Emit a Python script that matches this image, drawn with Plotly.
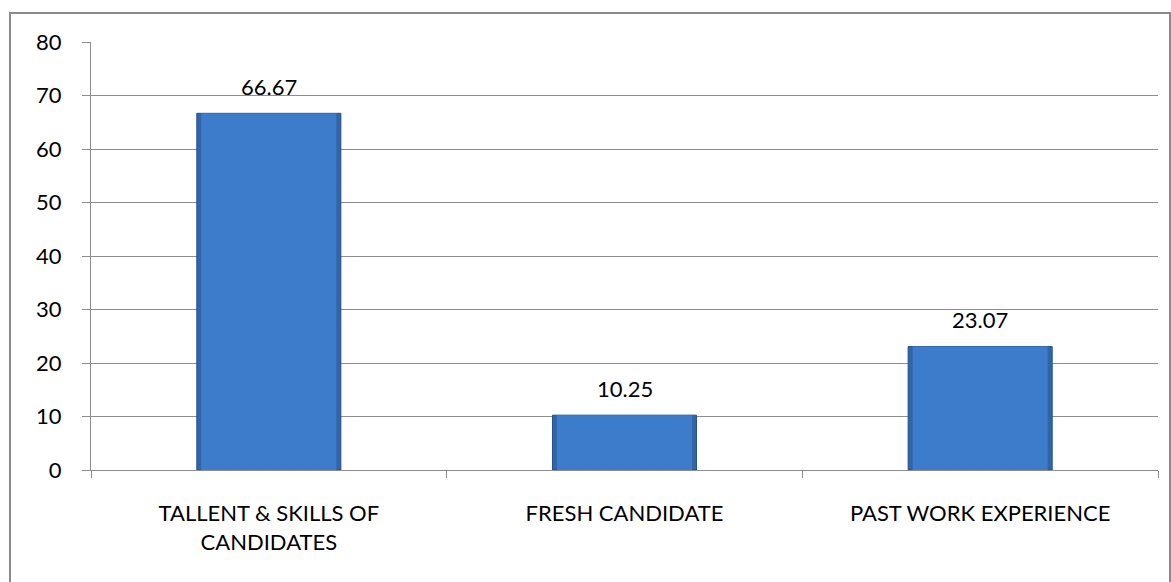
import plotly.graph_objects as go

categories = ["TALLENT & SKILLS OF<br>CANDIDATES", "FRESH CANDIDATE", "PAST WORK EXPERIENCE"]
values = [66.67, 10.25, 23.07]
value_labels = ["66.67", "10.25", "23.07"]

W, H = 1171, 582
ML, MR, MT, MB = 91, 13, 42, 112
pw, ph = W - ML - MR, H - MT - MB

FONT = "Lato, 'Open Sans', sans-serif"
FS = 22

fig = go.Figure()
# darker body gives the bevelled edge, lighter inner face on top
fig.add_trace(go.Bar(
    x=categories, y=values, width=0.405,
    marker=dict(color="#3264a8", line=dict(color="#24508c", width=1)),
    hoverinfo="skip",
))
fig.add_trace(go.Bar(
    x=categories, y=values, width=0.38,
    marker=dict(color="#3d7bcb", line=dict(width=0)),
    hoverinfo="skip",
))

for c, v, t in zip(categories, values, value_labels):
    fig.add_annotation(x=c, y=v, text=t, showarrow=False, yshift=27,
                       font=dict(family=FONT, size=FS, color="#000000"))

# outer chart frame
fig.add_shape(type="rect", xref="paper", yref="paper",
              x0=(10 - ML) / pw, x1=(1170 - ML) / pw,
              y0=-(H - MT - ph + 10) / ph, y1=1 + (MT - 13) / ph,
              line=dict(color="#8a8a8a", width=2), layer="below")

fig.update_layout(
    width=W, height=H,
    margin=dict(l=ML, r=MR, t=MT, b=MB),
    paper_bgcolor="white", plot_bgcolor="white",
    barmode="overlay",
    showlegend=False,
    font=dict(family=FONT, size=FS, color="#000000"),
)
fig.update_xaxes(
    showline=True, linecolor="#8c8c8c", linewidth=1,
    ticks="outside", ticklen=7, tickcolor="#8c8c8c", tickson="boundaries",
    ticklabelstandoff=24, showgrid=False,
    tickfont=dict(family=FONT, size=FS, color="#000000"),
)
fig.update_yaxes(
    range=[0, 80], dtick=10, showline=True, linecolor="#8c8c8c", linewidth=1,
    ticks="outside", ticklen=8, tickcolor="#8c8c8c",
    showgrid=True, gridcolor="#8c8c8c", gridwidth=1, zeroline=False,
    ticklabelstandoff=16,
    tickfont=dict(family=FONT, size=FS, color="#000000"),
)

fig.write_html("out.html")
